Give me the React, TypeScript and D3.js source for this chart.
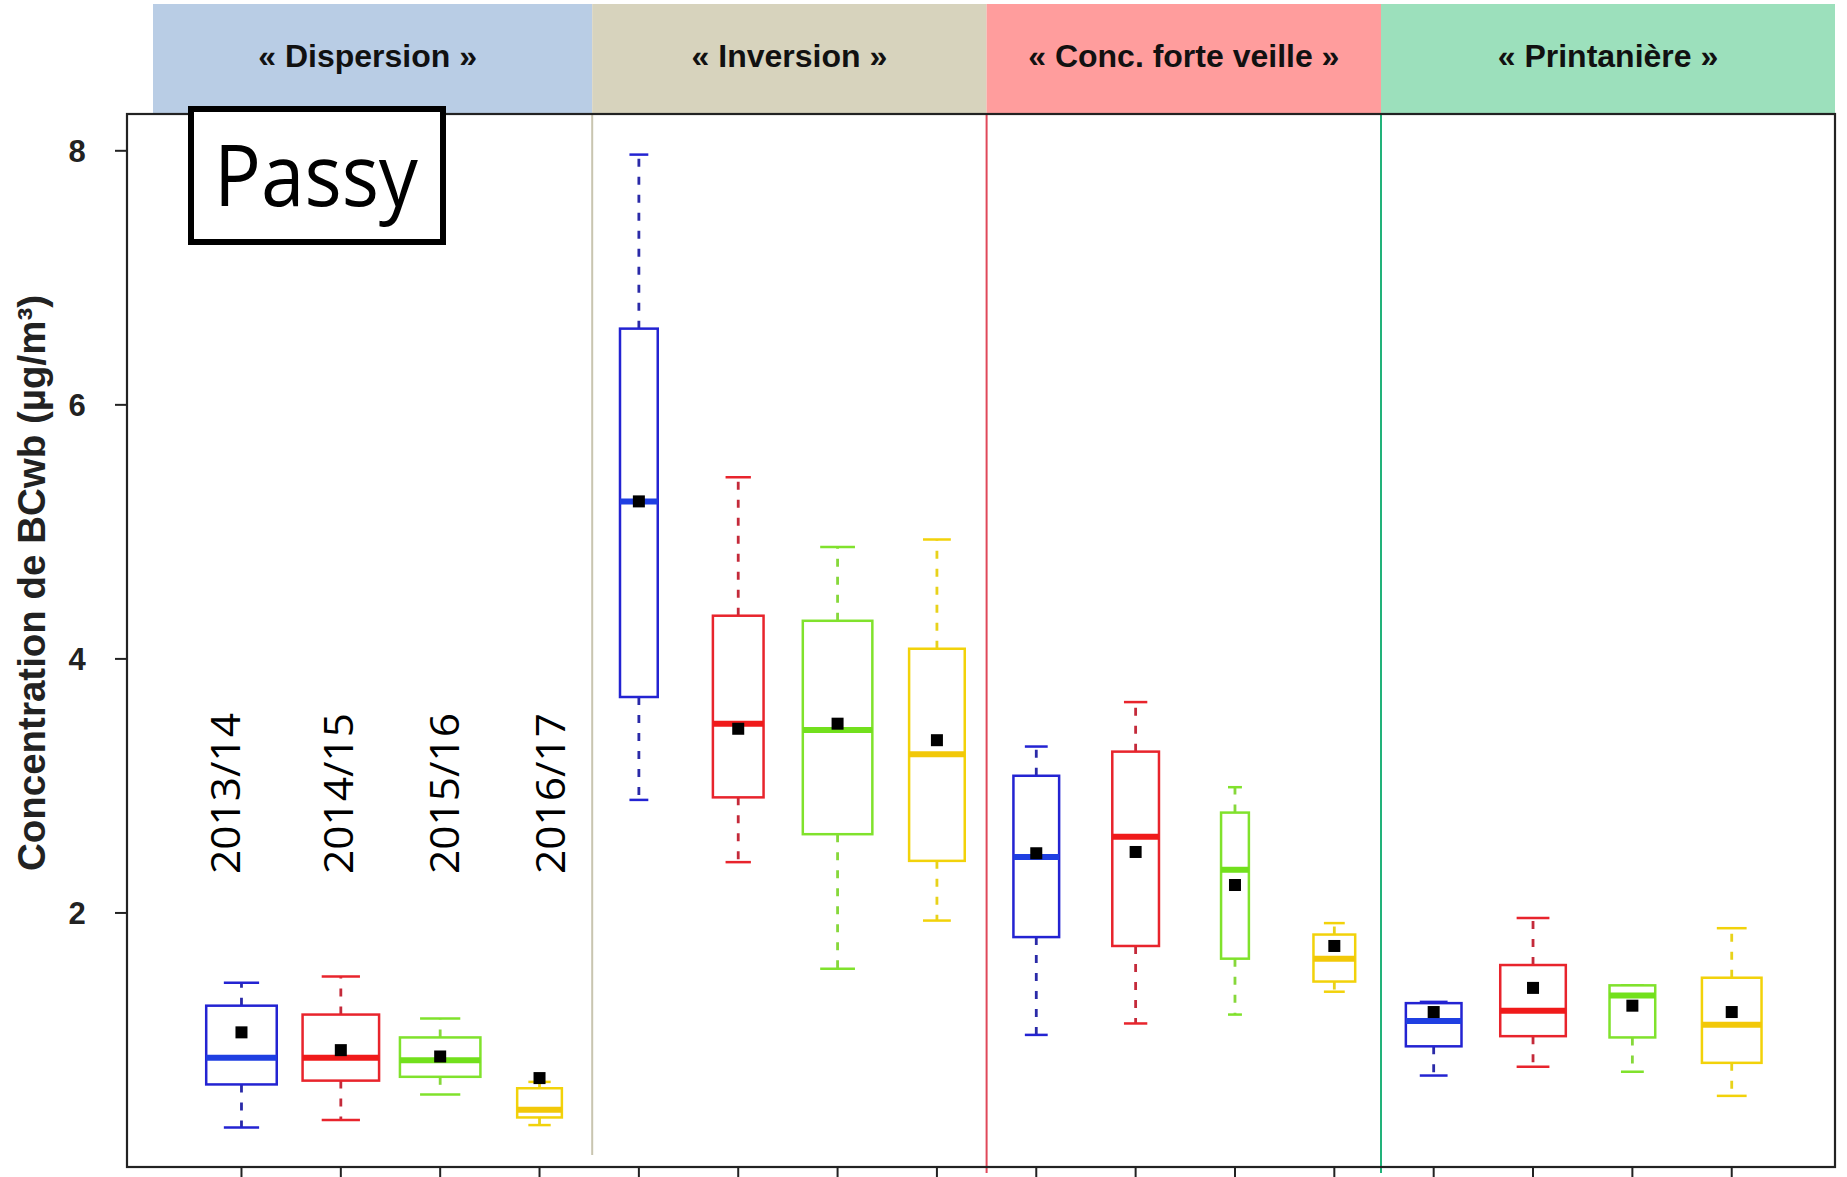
import React from "react";
import * as d3 from "d3";

// ---- data ----
const groups = ["« Dispersion »", "« Inversion »", "« Conc. forte veille »", "« Printanière »"];
const seasons = ["2013/14", "2014/15", "2015/16", "2016/17"];
const yTicks = [2, 4, 6, 8];
const whiskerHigh = [1.45, 1.5, 1.17, 0.67, 7.97, 5.43, 4.88, 4.94, 3.31, 3.66, 2.99, 1.92, 1.3, 1.96, 1.43, 1.88];
const q3 = [1.27, 1.2, 1.02, 0.62, 6.6, 4.34, 4.3, 4.08, 3.08, 3.27, 2.79, 1.83, 1.29, 1.59, 1.43, 1.49];
const median = [0.86, 0.86, 0.84, 0.45, 5.24, 3.49, 3.44, 3.25, 2.44, 2.6, 2.34, 1.64, 1.15, 1.23, 1.35, 1.12];
const q1 = [0.65, 0.68, 0.71, 0.39, 3.7, 2.91, 2.62, 2.41, 1.81, 1.74, 1.64, 1.46, 0.95, 1.03, 1.02, 0.82];
const whiskerLow = [0.31, 0.37, 0.57, 0.33, 2.89, 2.4, 1.56, 1.94, 1.04, 1.13, 1.2, 1.38, 0.72, 0.79, 0.75, 0.56];
const mean = [1.06, 0.92, 0.87, 0.7, 5.24, 3.45, 3.49, 3.36, 2.47, 2.48, 2.22, 1.74, 1.22, 1.41, 1.27, 1.22];
const relWidth = [0.71, 0.77, 0.81, 0.45, 0.38, 0.51, 0.7, 0.56, 0.46, 0.47, 0.28, 0.42, 0.56, 0.66, 0.46, 0.6];

// ---- styles ----
const seasonColors = ["#2323d2", "#e8242c", "#80e22c", "#f2d20a"];
const medianColors = ["#1f3fe2", "#f01a1a", "#72e01c", "#f2c808"];
const whiskerColors = ["#2a2aa8", "#c42a3a", "#86d83a", "#e8d21a"];
const headerColors = ["#b9cde5", "#d7d3bd", "#ff9d9d", "#9ce0bc"];
const sepColors = ["#c9c5b0", "#e0485a", "#22b27a"];

const W = 1847;
const H = 1177;
const frame = { left: 127, right: 1835, top: 114, bottom: 1167 };
const headerTop = 4;
const headerLeft = 153;

export default function App() {
  const idx = d3.range(16).map(String);
  const x = d3.scaleBand<string>().domain(idx).range([191.8, 191.8 + 16 * 99.35]).padding(0);
  const step = x.step();
  const cx = (i: number) => (x(String(i)) as number) + step / 2;
  const y = d3.scaleLinear().domain([0, 8]).range([frame.bottom, 150.8]);

  const sepNudge = [3, 0, -3];
  const seps = [4, 8, 12].map((i, k) => (x(String(i)) as number) + sepNudge[k]);
  const bandEdges = [headerLeft, ...seps, frame.right];
  const labelOffsets = [-1.5, 12, 19, 25];
  const font = "'Liberation Sans', Arial, sans-serif";

  return (
    <svg width={W} height={H} style={{ position: "absolute", left: 0, top: 0, background: "#fff" }}>
      <rect x={0} y={0} width={W} height={H} fill="#fff" />
      {/* header bands */}
      {groups.map((g, k) => (
        <g key={g}>
          <rect
            x={bandEdges[k]}
            y={headerTop}
            width={bandEdges[k + 1] - bandEdges[k]}
            height={frame.top - headerTop}
            fill={headerColors[k]}
          />
          <text
            x={(bandEdges[k] + bandEdges[k + 1]) / 2 - (k === 0 ? 5 : 0)}
            y={67}
            textAnchor="middle"
            fontFamily={font}
            fontWeight="bold"
            fontSize={32}
            fill="#111"
          >
            {g}
          </text>
        </g>
      ))}
      {/* separators */}
      {seps.map((s, k) => (
        <line
          key={k}
          x1={s}
          x2={s}
          y1={frame.top}
          y2={k === 0 ? frame.bottom - 12 : frame.bottom + 6}
          stroke={sepColors[k]}
          strokeWidth={2}
        />
      ))}
      {/* frame */}
      <rect
        x={frame.left}
        y={frame.top}
        width={frame.right - frame.left}
        height={frame.bottom - frame.top}
        fill="none"
        stroke="#222"
        strokeWidth={2.2}
      />
      {/* y axis ticks */}
      {yTicks.map((t) => (
        <g key={t}>
          <line x1={frame.left - 12} x2={frame.left} y1={y(t)} y2={y(t)} stroke="#222" strokeWidth={2} />
          <text
            x={77}
            y={y(t)}
            dy="0.36em"
            textAnchor="middle"
            fontFamily={font}
            fontWeight="bold"
            fontSize={31}
            fill="#222"
          >
            {t}
          </text>
        </g>
      ))}
      <text
        transform={`translate(45,583) rotate(-90)`}
        textAnchor="middle"
        fontFamily={font}
        fontWeight="bold"
        fontSize={38.5}
        fill="#222"
      >
        Concentration de BCwb (µg/m³)
      </text>
      {/* x ticks */}
      {idx.map((d, i) => (
        <line key={d} x1={cx(i)} x2={cx(i)} y1={frame.bottom} y2={frame.bottom + 12} stroke="#222" strokeWidth={2} />
      ))}
      {/* boxes */}
      {idx.map((d, i) => {
        const s = i % 4;
        const c = cx(i);
        const bw = relWidth[i] * step;
        const cap = bw / 2;
        return (
          <g key={d}>
            <line x1={c} x2={c} y1={y(q3[i])} y2={y(whiskerHigh[i])} stroke={whiskerColors[s]} strokeWidth={2.8} strokeDasharray="8,10" />
            <line x1={c} x2={c} y1={y(q1[i])} y2={y(whiskerLow[i])} stroke={whiskerColors[s]} strokeWidth={2.8} strokeDasharray="8,10" />
            <line x1={c - cap / 2} x2={c + cap / 2} y1={y(whiskerHigh[i])} y2={y(whiskerHigh[i])} stroke={seasonColors[s]} strokeWidth={2.5} />
            <line x1={c - cap / 2} x2={c + cap / 2} y1={y(whiskerLow[i])} y2={y(whiskerLow[i])} stroke={seasonColors[s]} strokeWidth={2.5} />
            <rect
              x={c - bw / 2}
              y={y(q3[i])}
              width={bw}
              height={y(q1[i]) - y(q3[i])}
              fill="#fff"
              stroke={seasonColors[s]}
              strokeWidth={2.5}
            />
            <line x1={c - bw / 2} x2={c + bw / 2} y1={y(median[i])} y2={y(median[i])} stroke={medianColors[s]} strokeWidth={6} />
            <rect x={c - 6} y={y(mean[i]) - 6} width={12} height={12} fill="#000" />
          </g>
        );
      })}
      {/* season labels */}
      {seasons.map((s, k) => (
        <text
          key={s}
          transform={`translate(${cx(k) + labelOffsets[k]},874) rotate(-90)`}
          fontFamily="'Open Sans', sans-serif"
          fontSize={40}
          textLength={161}
          lengthAdjust="spacingAndGlyphs"
          fill="#000"
        >
          {s}
        </text>
      ))}
      {/* Passy box */}
      <rect x={191} y={109} width={252} height={133} fill="#fff" stroke="#000" strokeWidth={6} />
      <text
        x={214}
        y={206}
        fontFamily="'Open Sans', sans-serif"
        fontSize={86}
        textLength={204}
        lengthAdjust="spacingAndGlyphs"
        fill="#000"
      >
        Passy
      </text>
    </svg>
  );
}
